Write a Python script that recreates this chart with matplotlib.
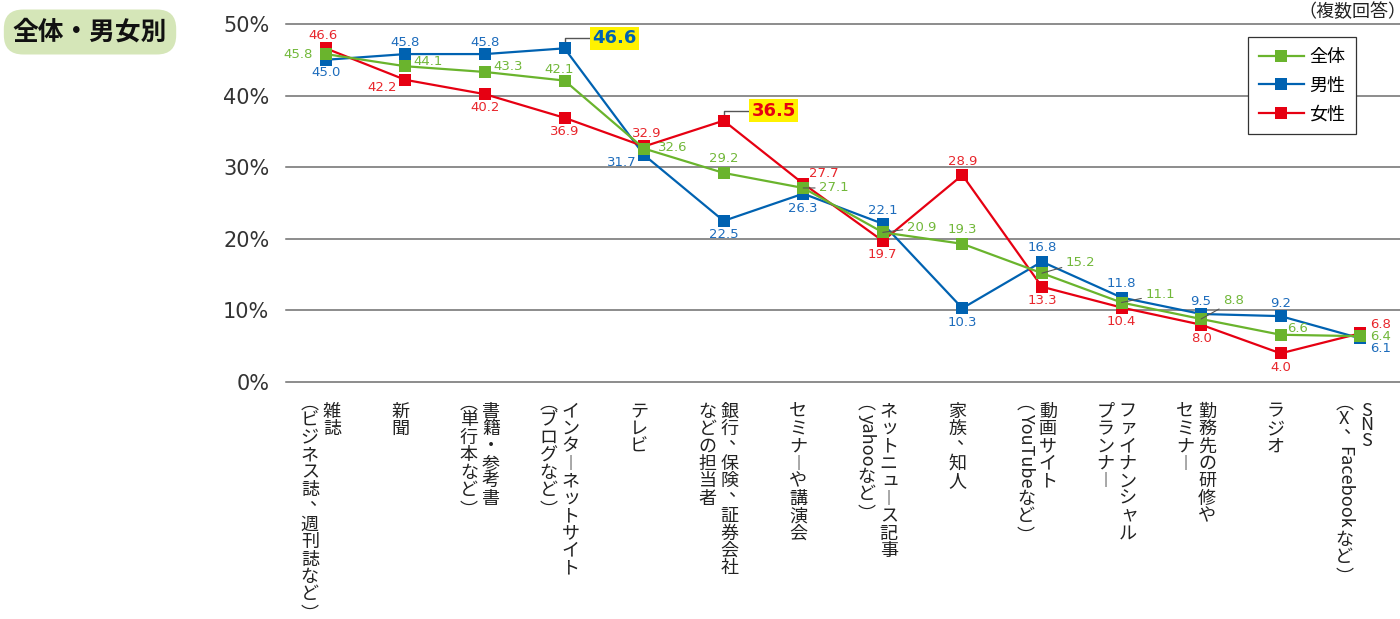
import matplotlib
matplotlib.use('Agg')
import matplotlib.pyplot as plt
import numpy as np
from matplotlib.textpath import TextPath
from matplotlib.font_manager import FontProperties

plt.rcParams['font.family'] = ['Noto Sans CJK JP', 'DejaVu Sans']

# ---------------- data ----------------
categories = [
    "雑誌\n（ビジネス誌、週刊誌など）",
    "新聞",
    "書籍・参考書\n（単行本など）",
    "インターネットサイト\n（ブログなど）",
    "テレビ",
    "銀行、保険、証券会社\nなどの担当者",
    "セミナーや講演会",
    "ネットニュース記事\n（yahooなど）",
    "家族、知人",
    "動画サイト\n（YouTubeなど）",
    "ファイナンシャル\nプランナー",
    "勤務先の研修や\nセミナー",
    "ラジオ",
    "SNS\n（X、Facebookなど）",
]
total = [45.8, 44.1, 43.3, 42.1, 32.6, 29.2, 27.1, 20.9, 19.3, 15.2, 11.1, 8.8, 6.6, 6.4]
male = [45.0, 45.8, 45.8, 46.6, 31.7, 22.5, 26.3, 22.1, 10.3, 16.8, 11.8, 9.5, 9.2, 6.1]
female = [46.6, 42.2, 40.2, 36.9, 32.9, 36.5, 27.7, 19.7, 28.9, 13.3, 10.4, 8.0, 4.0, 6.8]
series_names = ["全体", "男性", "女性"]
yticks = [0, 10, 20, 30, 40, 50]
ytick_labels = ["0%", "10%", "20%", "30%", "40%", "50%"]
title_text = "全体・男女別"
note_text = "（複数回答）"

# ---------------- styles ----------------
GREEN, BLUE, RED = '#6ab42d', '#0062b1', '#e60012'
GREEN_T, BLUE_T, RED_T = '#72b83a', '#1d6cbc', '#e8262c'

# label offsets (dx px, dy px up, ha, leader)
off_total = [(-13, 0, 'right', 0), (8, 5, 'left', 0), (8, 5, 'left', 0), (-5, 11, 'center', 0),
             (14, 1, 'left', 0), (0, 14, 'center', 0), (16, 0, 'left', 1), (24, 5, 'left', 1),
             (0, 14, 'center', 0), (24, 11, 'left', 1), (24, 8, 'left', 1), (22, 18, 'left', 1),
             (6, 6, 'left', 0), (10, 0, 'left', 0)]
off_male = [(0, -13, 'center', 0), (0, 12, 'center', 0), (0, 12, 'center', 0), None,
            (-7, -7, 'right', 0), (0, -14, 'center', 0), (0, -15, 'center', 0), (0, 13, 'center', 0),
            (0, -14, 'center', 0), (0, 14, 'center', 0), (0, 14, 'center', 0), (0, 12, 'center', 0),
            (0, 13, 'center', 0), (10, -10, 'left', 0)]
off_female = [(-3, 13, 'center', 0), (-8, -8, 'right', 0), (0, -13, 'center', 0), (0, -14, 'center', 0),
              (3, 13, 'center', 0), None, (6, 10, 'left', 0), (0, -14, 'center', 0),
              (0, 14, 'center', 0), (0, -14, 'center', 0), (0, -14, 'center', 0), (0, -14, 'center', 0),
              (0, -14, 'center', 0), (10, 9, 'left', 0)]

fig = plt.figure(figsize=(14, 6.19), dpi=100)
ax = fig.add_axes([286 / 1400, 237 / 619, 1114 / 1400, 358 / 619])
ax.set_xlim(-0.5, 13.5)
ax.set_ylim(0, 50)
for s in ax.spines.values():
    s.set_visible(False)
ax.set_xticks([])
ax.set_yticks(yticks)
ax.set_yticklabels(ytick_labels, fontsize=15, color='#333333', family='DejaVu Sans')
ax.tick_params(axis='y', length=0, pad=12)
for yv in yticks:
    ax.axhline(yv, color='#6e6e6e', lw=1.1, zorder=1, clip_on=False)

x = np.arange(len(categories))
lines = {}
for name, vals, col, z in [("男性", male, BLUE, 3), ("女性", female, RED, 4), ("全体", total, GREEN, 5)]:
    ln, = ax.plot(x, vals, color=col, lw=1.6, marker='s', markersize=8.6,
                  markeredgewidth=0, zorder=z, clip_on=False, label=name)
    lines[name] = ln

for vals, tcol, offs in [(male, BLUE_T, off_male), (female, RED_T, off_female), (total, GREEN_T, off_total)]:
    for i, v in enumerate(vals):
        o = offs[i]
        if o is None:
            continue
        dx, dy, ha, lead = o
        kw = {}
        if lead:
            kw['arrowprops'] = dict(arrowstyle='-', color='#555555', lw=0.8, shrinkA=1, shrinkB=0)
        ax.annotate(f'{v:.1f}', xy=(i, v), xytext=(dx, dy), textcoords='offset pixels',
                    ha=ha, va='center', color=tcol, fontsize=9.5, family='DejaVu Sans',
                    zorder=7, **kw)

# highlighted labels
for vals, idx, tcol in [(male, 3, BLUE), (female, 5, RED)]:
    ax.annotate(f'{vals[idx]:.1f}', xy=(idx, vals[idx]), xytext=(28, 10), textcoords='offset pixels',
                ha='left', va='center', fontsize=13, fontweight='bold', color=tcol,
                family='DejaVu Sans',
                bbox=dict(boxstyle='square,pad=0.12', fc='#fff200', ec='none'),
                arrowprops=dict(arrowstyle='-', color='#555555', lw=1.0,
                                connectionstyle='angle,angleA=0,angleB=90,rad=0',
                                shrinkA=0, shrinkB=4.3),
                zorder=2)

# vertical (tategaki) category labels
FS = 13
FS_PX = FS * 100 / 72
P = 17.4
P_LAT = 15
COL_GAP = 22
LABEL_TOP = 21
COL_X0 = -5
HALF = set('（）')
VERT = {'ー': '︱', '（': '︵', '）': '︶'}
PUNCT = set('、。')
SMALL = set('ャュョッァィゥェォ')
renderer = fig.canvas.get_renderer()
cjk_fp = FontProperties(family='Noto Sans CJK JP')


def ink_cy(g):
    ext = TextPath((0, 0), g, size=FS_PX, prop=cjk_fp).get_extents()
    return (ext.y0 + ext.y1) / 2


PAREN_CY = {g: ink_cy(g) for g in ('︵', '︶')}


def put(i, s, xo, yo, **kw):
    return ax.annotate(s, xy=(i, 0), xycoords=('data', 'axes fraction'), xytext=(xo, yo),
                       textcoords='offset pixels', fontsize=FS, color='#222222',
                       annotation_clip=False, **kw)


for i, lab in enumerate(categories):
    cols = lab.split('\n')
    n = len(cols)
    for k, col in enumerate(cols):
        cx = COL_X0 + (n - 1) * COL_GAP / 2 - k * COL_GAP
        y = -LABEL_TOP
        j = 0
        while j < len(col):
            ch = col[j]
            if ch.isascii() and ch.isalpha():
                m = j
                while m < len(col) and col[m].isascii() and col[m].isalpha():
                    m += 1
                run = col[j:m]
                if run.isupper():
                    for c in run:
                        put(i, c, cx, y - P_LAT / 2, ha='center', va='center')
                        y -= P_LAT
                else:
                    t = put(i, run, cx, y - 2, ha='center', va='top', rotation=-90)
                    bb = t.get_window_extent(renderer)
                    y -= bb.height + 4
                j = m
                continue
            if ch in HALF:
                h = P / 2
                g = VERT[ch]
                put(i, g, cx, y - h / 2 - PAREN_CY[g], ha='center', va='baseline')
                y -= h
                j += 1
                continue
            h = P
            dx = dy = 0
            if ch in PUNCT:
                dx, dy = 0.45 * P, 0.45 * P
            elif ch in SMALL:
                dx, dy = 0.08 * P, 0.08 * P
            glyph = VERT.get(ch, ch)
            put(i, glyph, cx + dx, y - h / 2 + dy, ha='center', va='center')
            y -= h
            j += 1

# legend
leg = ax.legend(handles=[lines["全体"], lines["男性"], lines["女性"]], labels=series_names,
                loc='upper right', bbox_to_anchor=(1356 / 1400, 1 - 37 / 619),
                bbox_transform=fig.transFigure, fontsize=13, frameon=True, fancybox=False,
                framealpha=1, edgecolor='#333333', handlelength=2.5, handletextpad=0.3,
                borderpad=0.6, labelspacing=0.6, borderaxespad=0)
leg.get_frame().set_linewidth(0.9)

# title badge and note
fig.text(0.0643, 1 - 32 / 619, title_text, ha='center', va='center', fontsize=18.5,
         fontweight='bold', color='#111111',
         bbox=dict(boxstyle='round,pad=0.35,rounding_size=0.75', fc='#d5e6b8', ec='none'))
fig.text(1406 / 1400, 1 - 12 / 619, note_text, ha='right', va='center', fontsize=13,
         color='#222222')

fig.savefig('out.png', dpi=100)
